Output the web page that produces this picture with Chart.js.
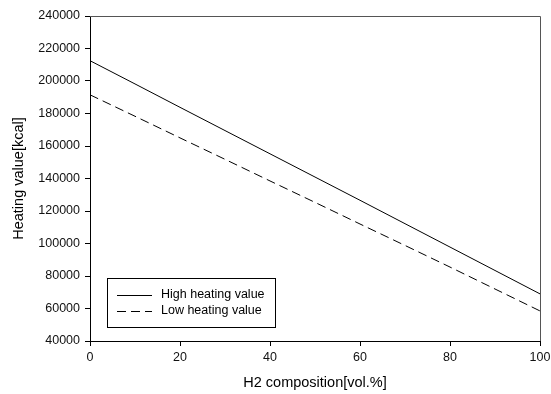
<!DOCTYPE html>
<html>
<head>
<meta charset="utf-8">
<style>
  html, body { margin: 0; padding: 0; background: #fff; }
  #wrap { width: 551px; height: 394px; }
</style>
</head>
<body>
<div id="wrap"><canvas id="heatChart" width="551" height="394"></canvas></div>
<script src="https://cdn.jsdelivr.net/npm/chart.js"></script>
<script>
// H2 composition [vol.%]
const composition = [0, 10, 20, 30, 40, 50, 60, 70, 80, 90, 100];
const highHeating = [212500, 198200, 183800, 169500, 155200, 140900, 126600, 112200, 97800, 83400, 69000];
const lowHeating = [191500, 178300, 165000, 151800, 138500, 125300, 112000, 98800, 85500, 72000, 58500];
const seriesNames = ["High heating value", "Low heating value"];

const font = "'Liberation Sans', Arial, sans-serif";

// frame + legend box drawn by hand, like the original plot
const framePlugin = {
    id: "frame",
    afterDraw(chart) {
        const { ctx, chartArea: a } = chart;
        ctx.save();
        ctx.strokeStyle = "#555";
        ctx.lineWidth = 1;
        ctx.beginPath();
        ctx.moveTo(a.left, a.top + 0.5);
        ctx.lineTo(a.right + 0.5, a.top + 0.5);
        ctx.lineTo(a.right + 0.5, a.bottom);
        ctx.stroke();

        // legend
        const x = a.left + 17, y = a.bottom - 63;
        ctx.strokeStyle = "#000";
        ctx.strokeRect(x + 0.5, y + 0.5, 168, 49);
        ctx.font = "12.5px " + font;
        ctx.fillStyle = "#000";
        ctx.textBaseline = "middle";
        const rows = [y + 17, y + 33];
        rows.forEach((ry, i) => {
            ctx.beginPath();
            ctx.setLineDash(i === 0 ? [] : [9, 5]);
            ctx.moveTo(x + 10, ry + 0.5);
            ctx.lineTo(x + 45, ry + 0.5);
            ctx.stroke();
            ctx.setLineDash([]);
            ctx.fillText(seriesNames[i], x + 54, ry);
        });
        ctx.restore();
    }
};

new Chart(document.getElementById("heatChart"), {
    type: "line",
    data: {
        datasets: [
            {
                label: seriesNames[0],
                data: composition.map((c, i) => ({ x: c, y: highHeating[i] })),
                borderColor: "#000",
                borderWidth: 1,
                pointRadius: 0,
                tension: 0
            },
            {
                label: seriesNames[1],
                data: composition.map((c, i) => ({ x: c, y: lowHeating[i] })),
                borderColor: "#000",
                borderWidth: 1,
                borderDash: [9, 5],
                pointRadius: 0,
                tension: 0
            }
        ]
    },
    options: {
        responsive: false,
        animation: false,
        layout: { padding: { top: 16, right: 11, left: 6, bottom: 0 } },
        plugins: { legend: { display: false }, tooltip: { enabled: false } },
        scales: {
            x: {
                type: "linear",
                min: 0,
                max: 100,
                ticks: { stepSize: 20, color: "#111", font: { family: font, size: 12.5 }, padding: 4 },
                grid: { drawOnChartArea: false, tickLength: 5, color: "#000" },
                border: { color: "#000" },
                title: { display: true, text: "H2 composition[vol.%]", color: "#000", font: { family: font, size: 14.5 }, padding: { top: 9, bottom: 2 } },
                afterFit(s) { s.height = 53; s.paddingLeft = 0; s.paddingRight = 0; }
            },
            y: {
                min: 40000,
                max: 240000,
                ticks: {
                    stepSize: 20000, color: "#111", font: { family: font, size: 12.5 }, padding: 5,
                    callback: v => String(v)
                },
                grid: { drawOnChartArea: false, tickLength: 5, color: "#000" },
                border: { color: "#000" },
                title: { display: true, text: "Heating value[kcal]", color: "#000", font: { family: font, size: 14.5 }, padding: { bottom: 2 } },
                afterFit(s) { s.width = 84; }
            }
        }
    },
    plugins: [framePlugin]
});
</script>
</body>
</html>
